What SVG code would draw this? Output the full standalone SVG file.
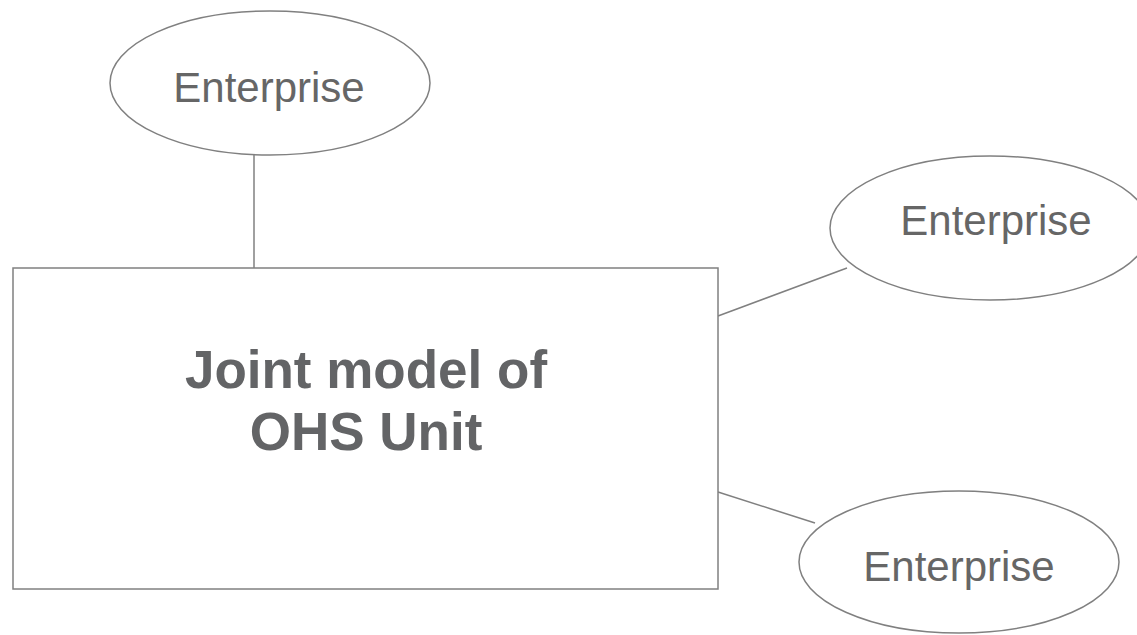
<svg xmlns="http://www.w3.org/2000/svg" width="1137" height="635" viewBox="0 0 1137 635">
<style>
.shape{fill:#ffffff;stroke:#808080;stroke-width:1.5}
.conn{stroke:#808080;stroke-width:1.5;fill:none}
.lbl{font-family:"Liberation Sans",Arial,sans-serif;font-size:42px;fill:#666666;text-anchor:middle}
.title{font-family:"Liberation Sans",Arial,sans-serif;font-size:53px;font-weight:bold;fill:#636466;text-anchor:middle}
</style>
<rect width="1137" height="635" fill="#ffffff"/>
<g id="connectors">
<line class="conn" x1="254" y1="155" x2="254" y2="268"/>
<line class="conn" x1="718" y1="316" x2="847" y2="268"/>
<line class="conn" x1="718" y1="492" x2="815" y2="523"/>
</g>
<g id="node-main">
<rect class="shape" x="13" y="268" width="705" height="321"/>
<text class="title" x="366" y="388">Joint model of</text>
<text class="title" x="366" y="450">OHS Unit</text>
</g>
<g id="node-enterprise-1">
<ellipse class="shape" cx="270" cy="83" rx="160" ry="72"/>
<text class="lbl" x="269" y="102">Enterprise</text>
</g>
<g id="node-enterprise-2">
<ellipse class="shape" cx="990" cy="228" rx="160" ry="72"/>
<text class="lbl" x="996" y="235">Enterprise</text>
</g>
<g id="node-enterprise-3">
<ellipse class="shape" cx="959" cy="562" rx="160" ry="71"/>
<text class="lbl" x="959" y="581">Enterprise</text>
</g>
</svg>
